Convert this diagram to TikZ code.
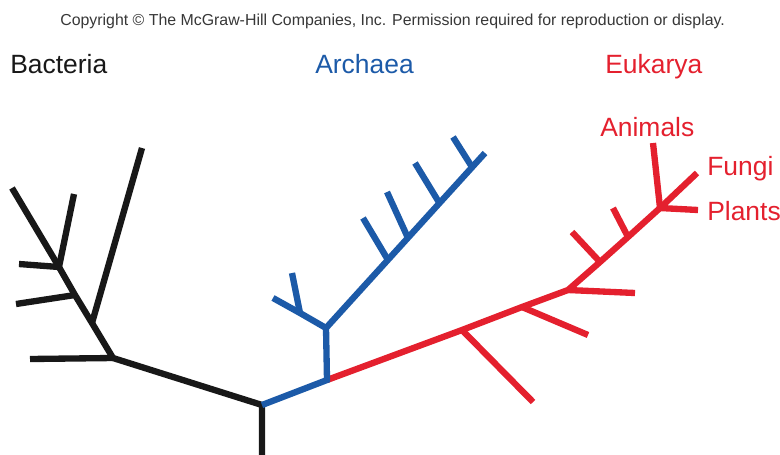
\documentclass[tikz,border=0pt]{standalone}
\usepackage{fontspec}
\setmainfont{Liberation Sans}
\usepackage{xcolor}
\definecolor{bact}{RGB}{24,24,24}
\definecolor{arch}{RGB}{28,90,168}
\definecolor{euk}{RGB}{228,32,46}
\definecolor{note}{RGB}{55,55,55}

\begin{document}
\begin{tikzpicture}[x=0.025cm, y=-0.025cm,
      branch/.style={line width=4.5pt},
      taxon/.style={font=\fontsize{18.8}{22}\selectfont, inner sep=0pt, anchor=base west},
      credit/.style={font=\fontsize{11.3}{13}\selectfont, inner sep=0pt, anchor=base west, color=note}
    ]
      \useasboundingbox (0,0) rectangle (780,454);
      \node[credit] (cr) at (60,25) {Copyright \textcopyright{} The McGraw-Hill Companies, Inc. Permission required for reproduction or display.};
      \node[taxon, color=bact] (bac) at (10,73) {Bacteria};
      \node[taxon, color=arch] (arc) at (315,73) {Archaea};
      \node[taxon, color=euk] (euk) at (605,73) {Eukarya};
      \node[taxon, color=euk] (ani) at (600,136) {Animals};
      \node[taxon, color=euk] (fun) at (707,175) {Fungi};
      \node[taxon, color=euk] (pla) at (707,220) {Plants};

      % branch points
      \coordinate (stem) at (262,458);
      \coordinate (root) at (262,405);
      \coordinate (b1) at (113,358);
      \coordinate (b2) at (92,323);
      \coordinate (b3) at (75,295);
      \coordinate (b4) at (59,267);
      \coordinate (btip) at (12,188);
      \coordinate (a1) at (327,380);
      \coordinate (a2) at (326,328);
      \coordinate (a3) at (300,313);
      \coordinate (a4) at (388,260);
      \coordinate (a5) at (408,238);
      \coordinate (a6) at (440,204);
      \coordinate (a7) at (472,167);
      \coordinate (atip) at (485,153);
      \coordinate (r1) at (462,330);
      \coordinate (r2) at (522,307);
      \coordinate (r3) at (568,290);
      \coordinate (r4) at (600,262);
      \coordinate (r5) at (628,237);
      \coordinate (r6) at (660,208);

      % leaves
      \coordinate (bl1) at (30,359);
      \coordinate (bl2) at (142,148);
      \coordinate (bl3) at (16,304);
      \coordinate (bl4) at (19,264);
      \coordinate (bl5) at (74,194);
      \coordinate (al1) at (273,298);
      \coordinate (al2) at (292,273);
      \coordinate (al3) at (363,218);
      \coordinate (al4) at (387,192);
      \coordinate (al5) at (415,163);
      \coordinate (al6) at (453,137);
      \coordinate (rl1) at (533,402);
      \coordinate (rl2) at (588,335);
      \coordinate (rl3) at (635,293);
      \coordinate (rl4) at (572,232);
      \coordinate (rl5) at (613,208);
      \coordinate (rani) at (653,143);
      \coordinate (rfun) at (697,173);
      \coordinate (rpla) at (698,210);

      \draw[branch, color=bact] (stem) -- (root) -- (b1) -- (b2) -- (b3) -- (b4) -- (btip);
      \draw[branch, color=bact] (b1) -- (bl1);
      \draw[branch, color=bact] (b2) -- (bl2);
      \draw[branch, color=bact] (b3) -- (bl3);
      \draw[branch, color=bact] (b4) -- (bl4);
      \draw[branch, color=bact] (b4) -- (bl5);

      \draw[branch, color=euk] (a1) -- (r1) -- (r2) -- (r3) -- (r4) -- (r5) -- (r6);
      \draw[branch, color=euk] (r1) -- (rl1);
      \draw[branch, color=euk] (r2) -- (rl2);
      \draw[branch, color=euk] (r3) -- (rl3);
      \draw[branch, color=euk] (r4) -- (rl4);
      \draw[branch, color=euk] (r5) -- (rl5);
      \draw[branch, color=euk] (r6) -- (rani);
      \draw[branch, color=euk] (r6) -- (rfun);
      \draw[branch, color=euk] (r6) -- (rpla);

      \draw[branch, color=arch] (root) -- (a1) -- (a2) -- (atip);
      \draw[branch, color=arch] (a2) -- (a3) -- (al1);
      \draw[branch, color=arch] (a3) -- (al2);
      \draw[branch, color=arch] (a4) -- (al3);
      \draw[branch, color=arch] (a5) -- (al4);
      \draw[branch, color=arch] (a6) -- (al5);
      \draw[branch, color=arch] (a7) -- (al6);
    \end{tikzpicture}
\end{document}
